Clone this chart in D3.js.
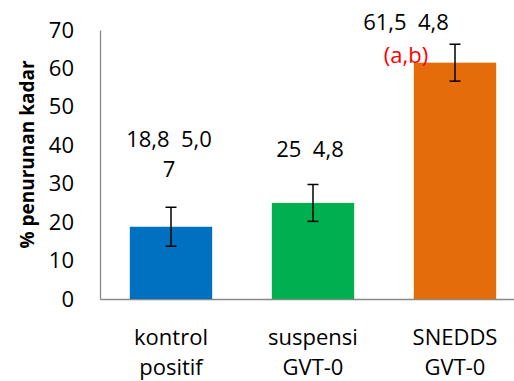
<!DOCTYPE html>
<html>
<head>
<meta charset="utf-8">
<script src="https://cdn.jsdelivr.net/npm/d3@7"></script>
<style>
  html, body { margin: 0; padding: 0; background: #fff; }
  svg { display: block; font-family: "Open Sans", "Noto Sans", sans-serif; }
</style>
</head>
<body>
<svg id="chart" width="514" height="381"></svg>
<script>
// Reduction in level (%) per treatment group, with standard deviation
const categories = [["kontrol", "positif"], ["suspensi", "GVT-0"], ["SNEDDS", "GVT-0"]];
const values = [18.8, 25, 61.5];
const errors = [5.07, 4.8, 4.8];
const colors = ["#0070c0", "#00b050", "#e46c0a"];
const yTicks = [0, 10, 20, 30, 40, 50, 60, 70];
const notes = ["", "", "(a,b)"];
const yTitle = "% penurunan kadar";

// label placement (value-axis anchor and horizontal shift in px)
const labelAnchor = [41.6, 38.9, 72.1];
const labelShift = [-2, -3, -49];

const svg = d3.select("#chart");
const fontSize = 22;

const x = d3.scaleBand()
  .domain(d3.range(values.length))
  .range([100, 526])
  .paddingInner(0.42)
  .paddingOuter(0.21);

const y = d3.scaleLinear().domain([0, 70]).range([299, 30]);

// value axis
const yAxis = svg.append("g")
  .attr("transform", "translate(100,0)")
  .call(d3.axisLeft(y).tickValues(yTicks).tickSize(0).tickPadding(26).tickFormat(d3.format("d")));
yAxis.select(".domain").attr("stroke", "#888").attr("stroke-width", 1.3);
yAxis.selectAll("text")
  .attr("font-size", fontSize)
  .attr("fill", "#000")
  .attr("font-family", "'Open Sans', sans-serif");

// category axis
const xAxis = svg.append("g")
  .attr("transform", `translate(0,${y(0)})`)
  .call(d3.axisBottom(x).tickSize(0).tickFormat(() => ""));
xAxis.select(".domain").attr("stroke", "#888").attr("stroke-width", 1.3);

xAxis.selectAll(".tick").each(function(d) {
  const t = d3.select(this).select("text")
    .attr("font-size", fontSize)
    .attr("fill", "#000")
    .attr("font-family", "'Open Sans', sans-serif")
    .attr("y", 0)
    .attr("dy", null);
  categories[d].forEach((line, i) => {
    t.append("tspan").attr("x", 0).attr("y", 46 + i * 30).text(line);
  });
});

// bars
svg.append("g").selectAll("rect")
  .data(values)
  .join("rect")
  .attr("x", (d, i) => x(i))
  .attr("width", x.bandwidth())
  .attr("y", d => y(d))
  .attr("height", d => y(0) - y(d))
  .attr("fill", (d, i) => colors[i]);

// error bars
const eb = svg.append("g").attr("stroke", "#000").attr("stroke-width", 1.5);
values.forEach((v, i) => {
  const cx = x(i) + x.bandwidth() / 2;
  const top = y(v + errors[i]), bot = y(v - errors[i]);
  eb.append("line").attr("x1", cx).attr("x2", cx).attr("y1", top).attr("y2", bot);
  eb.append("line").attr("x1", cx - 5.5).attr("x2", cx + 5.5).attr("y1", top).attr("y2", top);
  eb.append("line").attr("x1", cx - 5.5).attr("x2", cx + 5.5).attr("y1", bot).attr("y2", bot);
});

// data labels: "mean  sd", wrapped by character when too wide
const fmt = v => d3.format("~r")(+v.toFixed(2)).replace(".", ",");
const maxLabelWidth = 98;
const lab = svg.append("g")
  .attr("font-size", fontSize)
  .attr("text-anchor", "middle")
  .attr("fill", "#000");

values.forEach((v, i) => {
  const full = fmt(v) + "\u00a0\u00a0" + fmt(errors[i]);
  const cx = x(i) + x.bandwidth() / 2 + labelShift[i];
  const probe = lab.append("text").attr("visibility", "hidden");
  const lines = [];
  let cur = "";
  for (const ch of full) {
    probe.text(cur + ch);
    if (cur && probe.node().getComputedTextLength() > maxLabelWidth) {
      lines.push(cur);
      cur = ch;
    } else {
      cur += ch;
    }
  }
  lines.push(cur);
  probe.remove();
  const t = lab.append("text").attr("x", cx).attr("y", y(labelAnchor[i]));
  lines.forEach((ln, k) => {
    t.append("tspan").attr("x", cx).attr("dy", k === 0 ? "0.35em" : 30).text(ln);
  });
  if (notes[i]) {
    lab.append("text")
      .attr("x", cx)
      .attr("y", y(labelAnchor[i]) + 33)
      .attr("dy", "0.35em")
      .attr("fill", "#ff0000")
      .text(notes[i]);
  }
});

// value axis title
svg.append("text")
  .attr("transform", `translate(27,${(y(0) + y(70)) / 2 - 10}) rotate(-90)`)
  .attr("text-anchor", "middle")
  .attr("dy", "0.35em")
  .attr("font-size", 19)
  .attr("font-weight", "bold")
  .attr("fill", "#000")
  .text(yTitle);
</script>
</body>
</html>
